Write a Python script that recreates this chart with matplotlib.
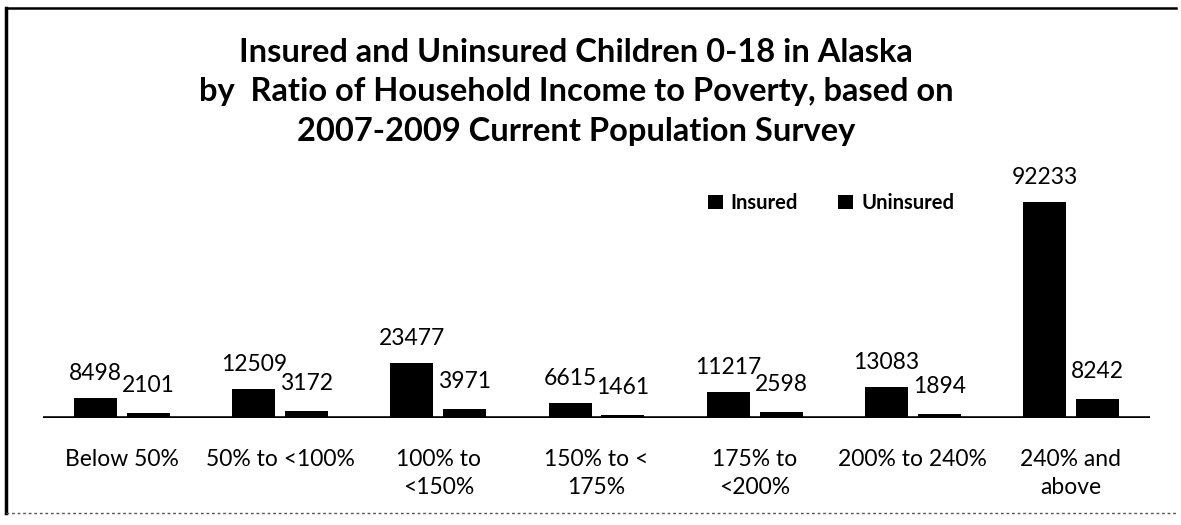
import matplotlib
matplotlib.use("Agg")
import matplotlib.pyplot as plt
from matplotlib.lines import Line2D
from matplotlib.patches import Patch
import numpy as np

# Income-to-poverty ratio groups and child counts
categories = ["Below 50%", "50% to <100%", "100% to\n<150%", "150% to <\n175%",
              "175% to\n<200%", "200% to 240%", "240% and\nabove"]
insured = [8498, 12509, 23477, 6615, 11217, 13083, 92233]
uninsured = [2101, 3172, 3971, 1461, 2598, 1894, 8242]

title_lines = ["Insured and Uninsured Children 0-18 in Alaska",
               "by  Ratio of Household Income to Poverty, based on",
               "2007-2009 Current Population Survey"]

plt.rcParams["font.family"] = ["Lato", "DejaVu Sans"]

W, H = 1181, 525
fig = plt.figure(figsize=(W / 100, H / 100), dpi=100)
fig.patch.set_facecolor("white")

ax = fig.add_axes([43 / W, 107 / H, 1107 / W, 234 / H])
x = np.arange(len(categories))
bw = 0.272
off = 0.167

b1 = ax.bar(x - off, insured, width=bw, color="black", label="Insured")
b2 = ax.bar(x + off, uninsured, width=bw, color="black", label="Uninsured")

for rect, v in zip(b1, insured):
    ax.annotate(f"{v}", (rect.get_x() + rect.get_width() / 2, v),
                xytext=(0, 10), textcoords="offset points",
                ha="center", va="bottom", fontsize=16.5, color="black")
for rect, v in zip(b2, uninsured):
    ax.annotate(f"{v}", (rect.get_x() + rect.get_width() / 2, v),
                xytext=(0, 12), textcoords="offset points",
                ha="center", va="bottom", fontsize=16.5, color="black")

ax.set_xlim(-0.5, len(categories) - 0.5)
ax.set_ylim(0, 100000)
ax.axhline(0, color="black", lw=2.6, zorder=3)
for s in ax.spines.values():
    s.set_visible(False)
ax.set_yticks([])
ax.set_xticks(x)
ax.set_xticklabels(categories, fontsize=16.5, linespacing=1.45)
ax.tick_params(axis="x", length=0, pad=22)

# Legend with small square markers
handles = [Patch(facecolor="black", label="Insured"),
           Patch(facecolor="black", label="Uninsured")]
fig.legend(handles=handles, loc="center", bbox_to_anchor=(831 / W, 1 - 203 / H),
           ncol=2, frameon=False, handlelength=0.75, handleheight=0.75,
           handletextpad=0.4, columnspacing=2.0,
           prop={"size": 14.5, "weight": "bold"})

# Title
ty = [52, 92, 132]
for line, yy in zip(title_lines, ty):
    fig.text(576 / W, 1 - yy / H, line, ha="center", va="center",
             fontsize=23.5, fontweight="bold", color="black")

# Outer frame
frame_kw = dict(transform=fig.transFigure, color="black")
fig.add_artist(Line2D([6 / W, 6 / W], [1 - 8 / H, 1 - 513 / H], lw=2.5, **frame_kw))
fig.add_artist(Line2D([6 / W, 1176 / W], [1 - 8 / H, 1 - 8 / H], lw=1.8, **frame_kw))
fig.add_artist(Line2D([6 / W, 1176 / W], [1 - 513 / H, 1 - 513 / H], lw=1.0,
                      ls=(0, (2, 2)), transform=fig.transFigure, color="#555555"))

fig.savefig("out.png", dpi=100, facecolor="white")
